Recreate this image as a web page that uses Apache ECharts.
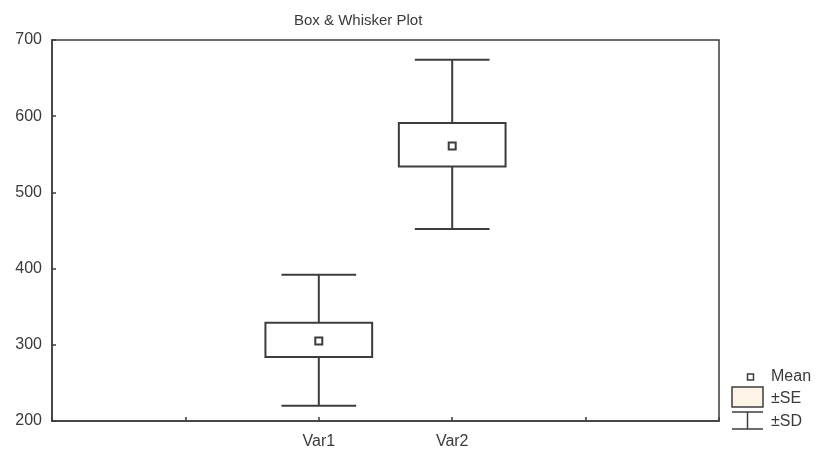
<!DOCTYPE html>
<html>
<head>
<meta charset="utf-8">
<script src="https://cdn.jsdelivr.net/npm/echarts@6/dist/echarts.min.js"></script>
<style>
html,body{margin:0;padding:0;background:#fff;}
#chart{width:819px;height:454px;}
</style>
</head>
<body>
<div id="chart"></div>
<script>
// ---- data ----
const xCategories = ['', '', 'Var1', 'Var2', '', ''];
const variables = ['Var1', 'Var2'];
const means = [305, 561];
const seLow = [284, 534];
const seHigh = [329, 591];
const sdLow = [220, 452];
const sdHigh = [392, 674];
const yTicks = [200, 300, 400, 500, 600, 700];

const FONT = '"Liberation Sans", Arial, sans-serif';
const LINE = '#3c3c3c';
const TEXT = '#3a3a3a';

const seriesData = variables.map((v, i) => [v, sdLow[i], seLow[i], means[i], seHigh[i], sdHigh[i]]);

function renderItem(params, api) {
  const xi = api.value(0);
  const band = api.size([1, 0])[0];
  const boxHalf = band * 0.4;
  const capHalf = band * 0.28;
  const pSdLow = api.coord([xi, api.value(1)]);
  const pSeLow = api.coord([xi, api.value(2)]);
  const pMean = api.coord([xi, api.value(3)]);
  const pSeHigh = api.coord([xi, api.value(4)]);
  const pSdHigh = api.coord([xi, api.value(5)]);
  const cx = pMean[0];
  const st = { stroke: LINE, lineWidth: 2 };
  return {
    type: 'group',
    children: [
      { type: 'line', shape: { x1: cx, y1: pSdLow[1], x2: cx, y2: pSeLow[1] }, style: st },
      { type: 'line', shape: { x1: cx, y1: pSeHigh[1], x2: cx, y2: pSdHigh[1] }, style: st },
      { type: 'line', shape: { x1: cx - capHalf, y1: pSdLow[1], x2: cx + capHalf, y2: pSdLow[1] }, style: st },
      { type: 'line', shape: { x1: cx - capHalf, y1: pSdHigh[1], x2: cx + capHalf, y2: pSdHigh[1] }, style: st },
      { type: 'rect', shape: { x: cx - boxHalf, y: pSeHigh[1], width: boxHalf * 2, height: pSeLow[1] - pSeHigh[1] },
        style: { fill: '#ffffff', stroke: LINE, lineWidth: 2 } },
      { type: 'rect', shape: { x: cx - 3.5, y: pMean[1] - 3.5, width: 7, height: 7 },
        style: { fill: '#ffffff', stroke: LINE, lineWidth: 2 } }
    ]
  };
}

const chart = echarts.init(document.getElementById('chart'), null, { renderer: 'canvas' });
chart.setOption({
  animation: false,
  backgroundColor: '#ffffff',
  title: {
    text: 'Box & Whisker Plot',
    left: 289, top: 8,
    textStyle: { fontFamily: FONT, fontSize: 15, fontWeight: 'normal', color: TEXT }
  },
  grid: {
    left: 52, right: 100, top: 40, bottom: 33,
    show: true, borderColor: LINE, borderWidth: 1.5, backgroundColor: 'transparent'
  },
  xAxis: {
    type: 'category',
    data: xCategories,
    boundaryGap: false,
    axisLine: { show: true, lineStyle: { color: LINE, width: 1.5 } },
    axisTick: { show: true, inside: true, length: 4, lineStyle: { color: LINE, width: 1.5 } },
    axisLabel: { fontFamily: FONT, fontSize: 16, color: TEXT, margin: 13, interval: 0 },
    splitLine: { show: false }
  },
  yAxis: {
    type: 'value',
    min: yTicks[0], max: yTicks[yTicks.length - 1], interval: 100,
    axisLine: { show: true, lineStyle: { color: LINE, width: 1.5 } },
    axisTick: { show: true, inside: true, length: 4, lineStyle: { color: LINE, width: 1.5 } },
    axisLabel: { fontFamily: FONT, fontSize: 16, color: TEXT, margin: 10 },
    splitLine: { show: false }
  },
  series: [{
    type: 'custom',
    name: 'Box',
    renderItem: renderItem,
    encode: { x: 0, y: [1, 2, 3, 4, 5] },
    data: seriesData,
    clip: false
  }],
  graphic: [
    { type: 'rect', shape: { x: 747.5, y: 374, width: 6, height: 6 }, style: { fill: '#fff', stroke: LINE, lineWidth: 1.5 } },
    { type: 'text', left: 771, top: 369, style: { text: 'Mean', font: '16px ' + FONT, fill: TEXT } },
    { type: 'rect', shape: { x: 732, y: 387, width: 31, height: 20 }, style: { fill: '#fdf3e6', stroke: LINE, lineWidth: 1.5 } },
    { type: 'text', left: 771, top: 391, style: { text: '±SE', font: '16px ' + FONT, fill: TEXT } },
    { type: 'line', shape: { x1: 732, y1: 412, x2: 763, y2: 412 }, style: { stroke: LINE, lineWidth: 1.5 } },
    { type: 'line', shape: { x1: 747.5, y1: 412, x2: 747.5, y2: 429 }, style: { stroke: LINE, lineWidth: 1.5 } },
    { type: 'line', shape: { x1: 732, y1: 429, x2: 763, y2: 429 }, style: { stroke: LINE, lineWidth: 1.5 } },
    { type: 'text', left: 771, top: 414, style: { text: '±SD', font: '16px ' + FONT, fill: TEXT } }
  ]
});
</script>
</body>
</html>
